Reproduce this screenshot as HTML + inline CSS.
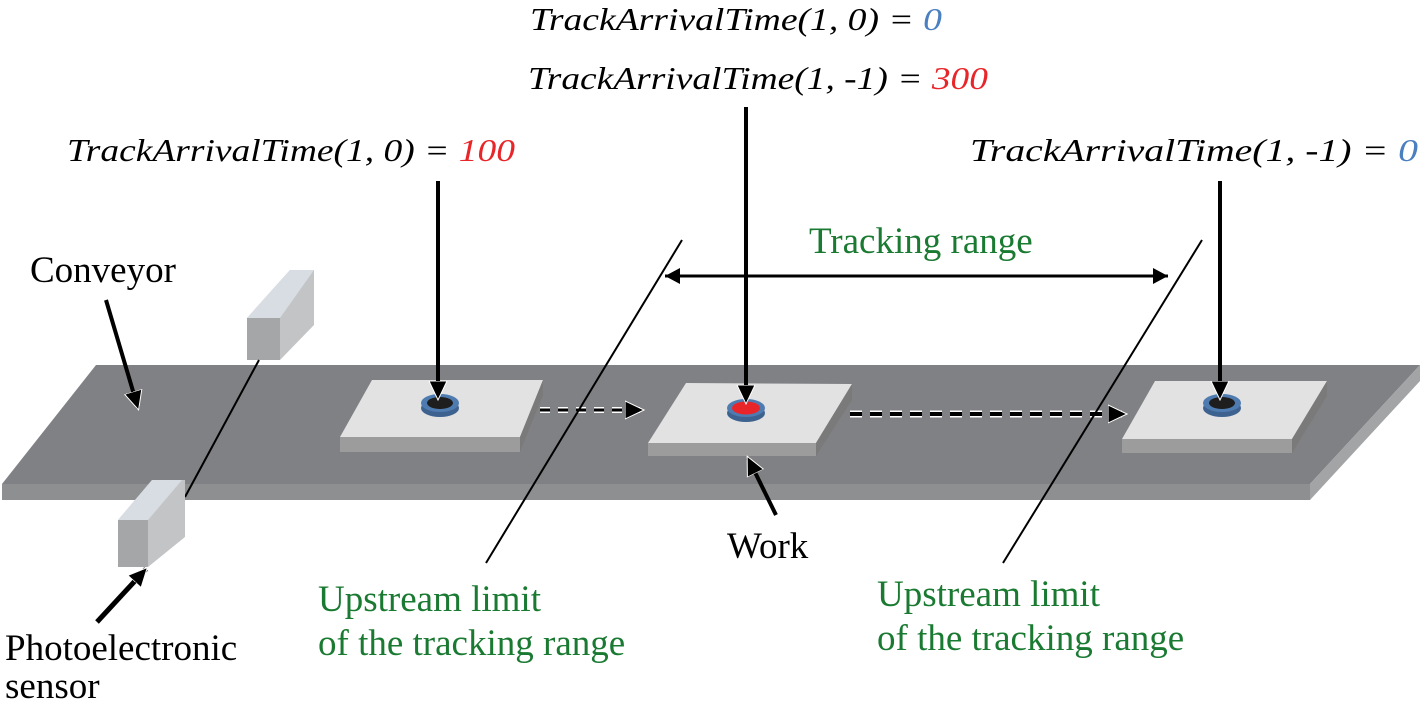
<!DOCTYPE html>
<html><head><meta charset="utf-8"><style>
html,body{margin:0;padding:0;background:#fff;}
svg{display:block;}
.it{font-family:"Liberation Serif",serif;font-style:italic;font-size:32px;fill:#000;}
.rm{font-family:"Liberation Serif",serif;font-size:37px;fill:#000;}
.gr{font-family:"Liberation Serif",serif;font-size:37px;fill:#1a7a32;}
</style></head><body>
<svg width="1420" height="710" viewBox="0 0 1420 710" xmlns="http://www.w3.org/2000/svg">
<defs>
<marker id="ahw" markerWidth="20" markerHeight="20" refX="17" refY="10" orient="auto" markerUnits="userSpaceOnUse"><path d="M0,1 L19,10 L0,19 Z" fill="#000" stroke="#fff" stroke-width="1"/></marker>
<marker id="ahs" markerWidth="18" markerHeight="18" refX="1" refY="9" orient="auto" markerUnits="userSpaceOnUse"><path d="M16,1 L1,9 L16,17 Z" fill="#000"/></marker>
<marker id="ahe" markerWidth="18" markerHeight="18" refX="17" refY="9" orient="auto" markerUnits="userSpaceOnUse"><path d="M2,1 L17,9 L2,17 Z" fill="#000"/></marker>
</defs>
<polygon points="96,365 1420,365 1310,484 2,484" fill="#808184"/>
<polygon points="2,484 1310,484 1310,500 2,500" fill="#8e8f91"/>
<polygon points="1310,484 1420,365 1420,381 1310,500" fill="#a3a4a6"/>
<polygon points="247,318 290,270 314,270 314,325 280,360 247,360" fill="#c3c4c6"/>
<polygon points="247,318 280,318 280,360 247,360" fill="#a5a6a8"/>
<polygon points="247,318 290,270 314,270 280,318" fill="#d8dde3"/>
<line x1="259" y1="360" x2="185" y2="497" stroke="#000" stroke-width="2"/>
<polygon points="118,520 152,480 185,480 185,537 148,567 118,567" fill="#c3c4c6"/>
<polygon points="118,520 148,520 148,567 118,567" fill="#a5a6a8"/>
<polygon points="118,520 152,480 182,480 148,520" fill="#d8dde3"/>
<g>
<polygon points="372,380 543,380 520,437 340,437" fill="#e2e2e2"/>
<polygon points="340,437 520,437 520,452 340,452" fill="#9c9c9c"/>
<polygon points="520,437 543,380 543,395 520,452" fill="#7a7a7a"/>
<ellipse cx="440" cy="408" rx="19" ry="9" fill="#3d6290"/>
<ellipse cx="440" cy="403" rx="19" ry="9" fill="#4e7bb0"/>
<ellipse cx="440" cy="403" rx="13" ry="6" fill="#1e1e1e"/>
</g>
<g>
<polygon points="686,383 852,384 816,443 648,443" fill="#e2e2e2"/>
<polygon points="648,443 816,443 816,456 648,456" fill="#9c9c9c"/>
<polygon points="816,443 852,384 852,400 816,456" fill="#7a7a7a"/>
<ellipse cx="746" cy="413" rx="19" ry="9" fill="#3d6290"/>
<ellipse cx="746" cy="408" rx="19" ry="9" fill="#4e7bb0"/>
<ellipse cx="746" cy="408" rx="14" ry="6.5" fill="#e8262a"/>
</g>
<g>
<polygon points="1155,381 1327,381 1292,439 1122,439" fill="#e2e2e2"/>
<polygon points="1122,439 1292,439 1292,453 1122,453" fill="#9c9c9c"/>
<polygon points="1292,439 1327,381 1327,396 1292,453" fill="#7a7a7a"/>
<ellipse cx="1222" cy="408" rx="19" ry="9" fill="#3d6290"/>
<ellipse cx="1222" cy="403" rx="19" ry="9" fill="#4e7bb0"/>
<ellipse cx="1222" cy="403" rx="13" ry="6" fill="#1e1e1e"/>
</g>
<line x1="540" y1="410" x2="640" y2="410" stroke="#fff" stroke-width="6" stroke-dasharray="10,8"/>
<line x1="540" y1="410" x2="642" y2="410" stroke="#000" stroke-width="3" stroke-dasharray="10,8" marker-end="url(#ahw)"/>
<line x1="850" y1="414" x2="1122" y2="414" stroke="#fff" stroke-width="7" stroke-dasharray="12,8"/>
<line x1="850" y1="414" x2="1125" y2="414" stroke="#000" stroke-width="4" stroke-dasharray="12,8" marker-end="url(#ahw)"/>
<line x1="682" y1="240" x2="486" y2="563" stroke="#000" stroke-width="2"/>
<line x1="1202" y1="240" x2="1003" y2="563" stroke="#000" stroke-width="2"/>
<line x1="665" y1="276" x2="1168" y2="276" stroke="#000" stroke-width="3" marker-start="url(#ahs)" marker-end="url(#ahe)"/>
<line x1="438" y1="181" x2="438" y2="398" stroke="#000" stroke-width="4" marker-end="url(#ahw)"/>
<line x1="746" y1="107" x2="746" y2="402" stroke="#000" stroke-width="4" marker-end="url(#ahw)"/>
<line x1="1220" y1="181" x2="1220" y2="398" stroke="#000" stroke-width="4" marker-end="url(#ahw)"/>
<line x1="106" y1="300" x2="138" y2="408" stroke="#000" stroke-width="4" marker-end="url(#ahw)"/>
<line x1="776" y1="515" x2="748" y2="458" stroke="#000" stroke-width="4" marker-end="url(#ahw)"/>
<line x1="97" y1="622" x2="146" y2="569" stroke="#000" stroke-width="5" marker-end="url(#ahw)"/>
<text class="it" x="530" y="30" textLength="412" lengthAdjust="spacingAndGlyphs">TrackArrivalTime(1, 0) = <tspan fill="#4a7fc0">0</tspan></text>
<text class="it" x="528" y="89" textLength="460" lengthAdjust="spacingAndGlyphs">TrackArrivalTime(1, -1) = <tspan fill="#e8262a">300</tspan></text>
<text class="it" x="67" y="161" textLength="448" lengthAdjust="spacingAndGlyphs">TrackArrivalTime(1, 0) = <tspan fill="#e8262a">100</tspan></text>
<text class="it" x="970" y="161" textLength="448" lengthAdjust="spacingAndGlyphs">TrackArrivalTime(1, -1) = <tspan fill="#4a7fc0">0</tspan></text>
<text class="gr" x="809" y="253">Tracking range</text>
<text class="rm" x="30" y="282">Conveyor</text>
<text class="rm" x="727" y="558">Work</text>
<text class="rm" x="5" y="660">Photoelectronic</text>
<text class="rm" x="5" y="698">sensor</text>
<text class="gr" x="318" y="611">Upstream limit</text>
<text class="gr" x="318" y="655">of the tracking range</text>
<text class="gr" x="877" y="606">Upstream limit</text>
<text class="gr" x="877" y="650">of the tracking range</text>
</svg>
</body></html>
